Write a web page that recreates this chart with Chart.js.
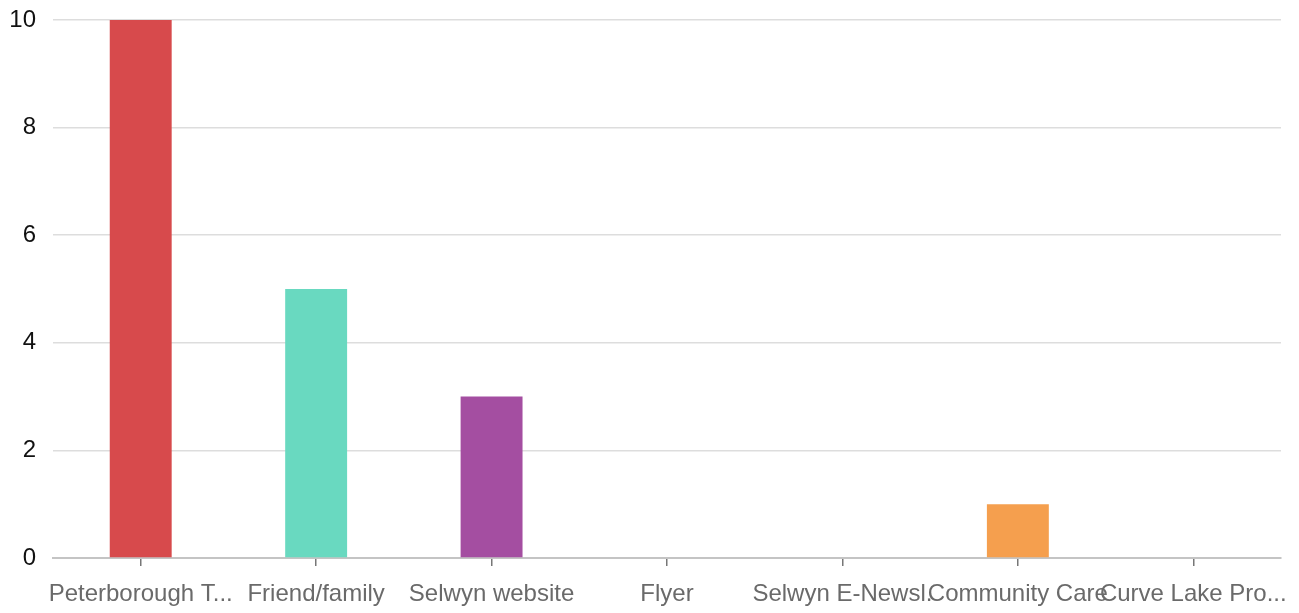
<!DOCTYPE html>
<html>
<head>
<meta charset="utf-8">
<script src="https://cdn.jsdelivr.net/npm/chart.js@4"></script>
<style>
  html, body { margin: 0; padding: 0; background: #fff; }
  #wrap { width: 1299px; height: 613px; }
</style>
</head>
<body>
<div id="wrap"><canvas id="c" width="1299" height="613"></canvas></div>
<script>
const labels = ['Peterborough T...', 'Friend/family', 'Selwyn website', 'Flyer', 'Selwyn E-Newsl.', 'Community Care', 'Curve Lake Pro...'];
const values = [10, 5, 3, 0, 0, 1, 0];
const colors = ['#d74a4c', '#69d9c0', '#a44ea1', '#5b9bd5', '#7a7a7a', '#f59f4e', '#888888'];

const FONT = '"Liberation Sans", Arial, sans-serif';

new Chart(document.getElementById('c'), {
  type: 'bar',
  data: {
    labels,
    datasets: [{ data: values, backgroundColor: colors, borderWidth: 0, barPercentage: 0.353, categoryPercentage: 1 }],
  },
  options: {
    responsive: false,
    animation: false,
    layout: { padding: { top: 20, right: 18, left: 0, bottom: 0 } },
    plugins: { legend: { display: false }, tooltip: { enabled: false } },
    scales: {
      x: {
        z: 1,
        grid: { display: true, offset: false, drawOnChartArea: false, drawTicks: true, tickLength: 8, color: '#777', lineWidth: 1.5 },
        border: { color: '#c4c4c4', width: 2 },
        ticks: { color: '#6a6a6a', font: { family: FONT, size: 24 }, maxRotation: 0, autoSkip: false, padding: 14 },
        afterFit: s => { s.height = 55; s.paddingLeft = 0; s.paddingRight = 0; },
      },
      y: {
        min: 0, max: 10,
        grid: { color: '#dddddd', lineWidth: 1.5, drawTicks: false },
        border: { display: false },
        ticks: { stepSize: 2, color: '#111', font: { family: FONT, size: 24 }, padding: 17 },
        afterFit: s => { s.width = 53; s.paddingTop = 0; s.paddingBottom = 0; },
      },
    },
  },
});
</script>
</body>
</html>
